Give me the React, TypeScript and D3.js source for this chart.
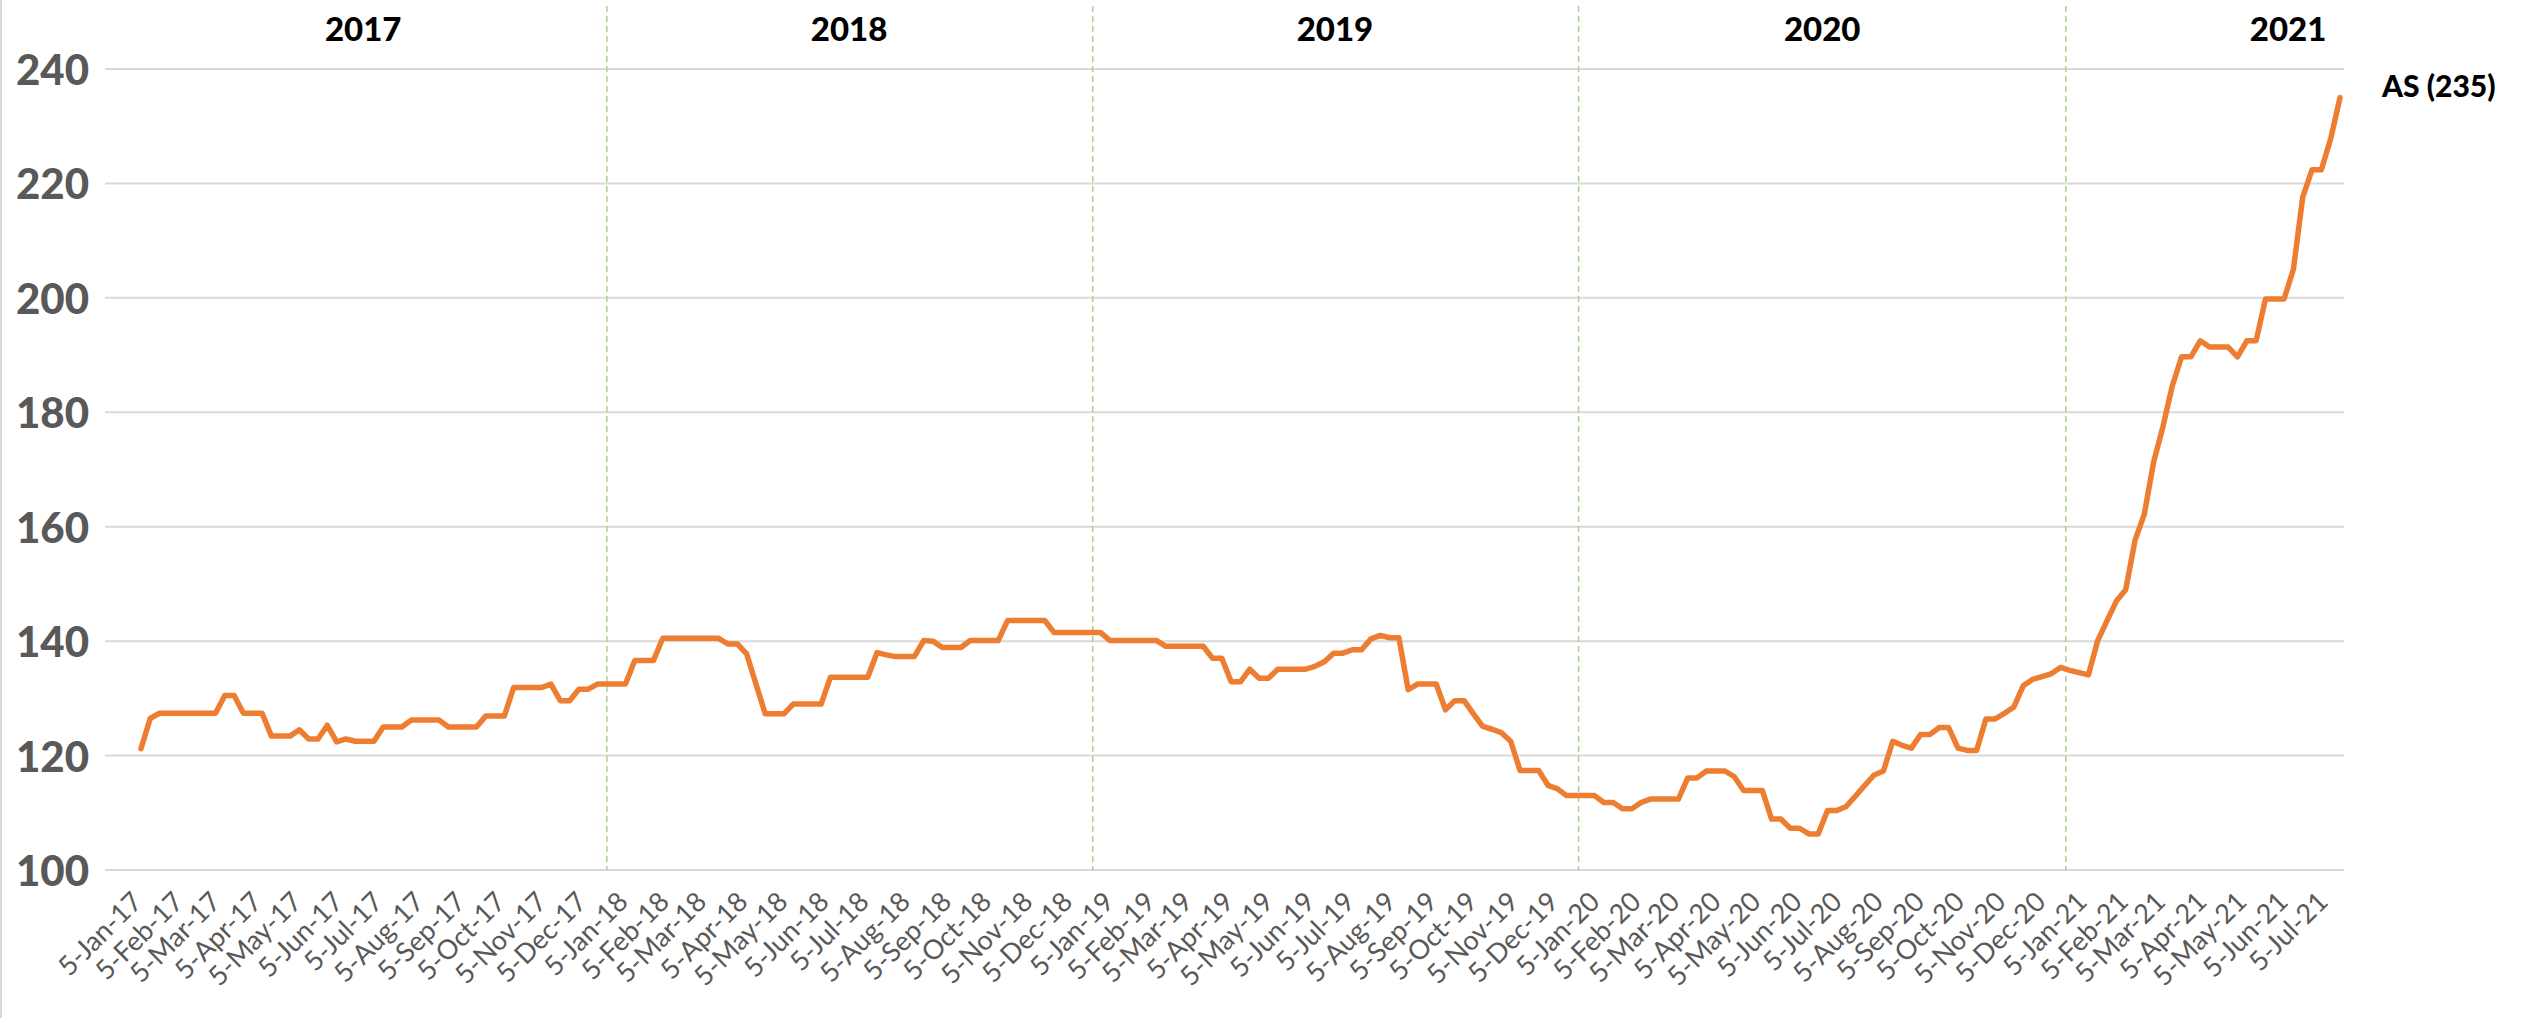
import React, { useEffect, useRef } from "react";
import * as d3 from "d3";

// weekly AS index, first reading mid-Jan 2017
const firstWeek = new Date(2017, 0, 16);
const asValues = [
  121.2, 126.5, 127.4, 127.4, 127.4, 127.4, 127.4, 127.4, 127.4, 130.5,
  130.5, 127.4, 127.4, 127.4, 123.4, 123.4, 123.4, 124.5, 122.9, 122.9,
  125.3, 122.4, 122.9, 122.5, 122.5, 122.5, 125.0, 125.0, 125.0, 126.2,
  126.2, 126.2, 126.2, 125.0, 125.0, 125.0, 125.0, 126.9, 126.9, 126.9,
  131.9, 131.9, 131.9, 131.9, 132.5, 129.6, 129.6, 131.6, 131.6, 132.5,
  132.5, 132.5, 132.5, 136.6, 136.6, 136.6, 140.5, 140.5, 140.5, 140.5,
  140.5, 140.5, 140.5, 139.5, 139.5, 137.8, 132.5, 127.3, 127.3, 127.3,
  129.0, 129.0, 129.0, 129.0, 133.7, 133.7, 133.7, 133.7, 133.7, 138.0,
  137.6, 137.3, 137.3, 137.3, 140.1, 140.0, 138.9, 138.9, 138.9, 140.1,
  140.1, 140.1, 140.1, 143.6, 143.6, 143.6, 143.6, 143.6, 141.5, 141.5,
  141.5, 141.5, 141.5, 141.5, 140.1, 140.1, 140.1, 140.1, 140.1, 140.1,
  139.1, 139.1, 139.1, 139.1, 139.1, 137.0, 137.0, 132.9, 132.9, 135.1,
  133.5, 133.5, 135.1, 135.1, 135.1, 135.1, 135.6, 136.4, 137.9, 137.9,
  138.5, 138.5, 140.4, 141.0, 140.6, 140.6, 131.5, 132.5, 132.5, 132.5,
  128.0, 129.6, 129.6, 127.3, 125.1, 124.6, 124.0, 122.5, 117.4, 117.4,
  117.4, 114.8, 114.2, 113.0, 113.0, 113.0, 113.0, 111.8, 111.8, 110.7,
  110.7, 111.8, 112.4, 112.4, 112.4, 112.4, 116.1, 116.1, 117.3, 117.3,
  117.3, 116.3, 113.9, 113.9, 113.9, 108.9, 108.9, 107.3, 107.3, 106.3,
  106.3, 110.4, 110.4, 111.1, 112.9, 114.8, 116.6, 117.3, 122.5, 121.8,
  121.3, 123.7, 123.7, 124.9, 124.9, 121.3, 120.9, 120.9, 126.4, 126.4,
  127.4, 128.5, 132.2, 133.3, 133.8, 134.3, 135.4, 134.9, 134.5, 134.1,
  140.1, 143.6, 147.0, 149.0, 157.6, 162.2, 171.3, 177.5, 184.6, 189.7,
  189.7, 192.5, 191.4, 191.4, 191.4, 189.7, 192.5, 192.5, 199.8, 199.8,
  199.8, 205.0, 217.6, 222.4, 222.4, 227.8, 235.0,
];

const yTicks = [100, 120, 140, 160, 180, 200, 220, 240];
const yearLabels = ["2017", "2018", "2019", "2020", "2021"];
const yearLabelDates = [
  new Date(2017, 6, 2),
  new Date(2018, 6, 2),
  new Date(2019, 6, 2),
  new Date(2020, 6, 2),
  new Date(2021, 5, 17),
];
const yearDividers = [
  new Date(2018, 0, 1),
  new Date(2019, 0, 1),
  new Date(2020, 0, 1),
  new Date(2021, 0, 1),
];
const seriesLabel = "AS (235)";

export default function App() {
  const svgRef = useRef<SVGSVGElement>(null);

  useEffect(() => {
    const width = 2526;
    const height = 1018;
    const plot = { left: 105, right: 2344, top: 69, bottom: 870 };

    const svg = d3.select(svgRef.current);
    svg.selectAll("*").remove();
    svg.attr("width", width).attr("height", height);

    const data = asValues.map((v, i) => ({
      date: d3.timeDay.offset(firstWeek, i * 7),
      value: v,
    }));

    const x = d3
      .scaleTime()
      .domain([new Date(2016, 11, 20), new Date(2021, 6, 29)])
      .range([plot.left, plot.right]);

    const y = d3.scaleLinear().domain([100, 240]).range([plot.bottom, plot.top]);

    // frame line at the very left
    svg.append("line")
      .attr("x1", 1).attr("x2", 1)
      .attr("y1", 0).attr("y2", height)
      .attr("stroke", "#d9d9d9")
      .attr("stroke-width", 2);

    // horizontal gridlines
    svg.append("g")
      .selectAll("line")
      .data(yTicks)
      .join("line")
      .attr("x1", plot.left)
      .attr("x2", plot.right)
      .attr("y1", (d) => y(d))
      .attr("y2", (d) => y(d))
      .attr("stroke", "#d9d9d9")
      .attr("stroke-width", 2);

    // y tick labels
    svg.append("g")
      .selectAll("text")
      .data(yTicks)
      .join("text")
      .attr("x", 89)
      .attr("y", (d) => y(d))
      .attr("text-anchor", "end")
      .attr("dominant-baseline", "central")
      .attr("font-family", "Lato, 'Open Sans', sans-serif")
      .attr("font-weight", 900)
      .attr("font-size", 42)
      .attr("fill", "#595959")
      .text((d) => d);

    // year dividers
    svg.append("g")
      .selectAll("line")
      .data(yearDividers)
      .join("line")
      .attr("x1", (d) => x(d))
      .attr("x2", (d) => x(d))
      .attr("y1", 6)
      .attr("y2", plot.bottom)
      .attr("stroke", "#a9d18e")
      .attr("stroke-width", 1.5)
      .attr("stroke-dasharray", "6,4");

    // year labels
    svg.append("g")
      .selectAll("text")
      .data(yearLabels)
      .join("text")
      .attr("x", (_, i) => x(yearLabelDates[i]))
      .attr("y", 28)
      .attr("text-anchor", "middle")
      .attr("dominant-baseline", "central")
      .attr("font-family", "Lato, 'Open Sans', sans-serif")
      .attr("font-weight", 900)
      .attr("font-size", 33)
      .attr("fill", "#000")
      .text((d) => d);

    // monthly x labels on the 5th
    const months = d3.timeMonth
      .range(new Date(2017, 0, 1), new Date(2021, 7, 1))
      .map((d) => d3.timeDay.offset(d, 4));
    const fmt = d3.timeFormat("%-d-%b-%y");

    svg.append("g")
      .selectAll("text")
      .data(months)
      .join("text")
      .attr("transform", (d) => `translate(${x(d) + 10},${plot.bottom + 26}) rotate(-45)`)
      .attr("text-anchor", "end")
      .attr("dominant-baseline", "central")
      .attr("font-family", "Lato, 'Open Sans', sans-serif")
      .attr("font-size", 27)
      .attr("fill", "#595959")
      .text((d) => fmt(d));

    // series line
    const line = d3
      .line<{ date: Date; value: number }>()
      .x((d) => x(d.date))
      .y((d) => y(d.value));

    svg.append("path")
      .datum(data)
      .attr("d", line)
      .attr("fill", "none")
      .attr("stroke", "#ed7d31")
      .attr("stroke-width", 5.5)
      .attr("stroke-linejoin", "round")
      .attr("stroke-linecap", "round");

    // end label
    const last = data[data.length - 1];
    svg.append("text")
      .attr("x", x(last.date) + 42)
      .attr("y", y(last.value) - 13)
      .attr("dominant-baseline", "central")
      .attr("font-family", "Lato, 'Open Sans', sans-serif")
      .attr("font-weight", 900)
      .attr("font-size", 30)
      .attr("fill", "#000")
      .text(seriesLabel);
  }, []);

  return (
    <svg
      ref={svgRef}
      style={{ position: "absolute", left: 0, top: 0, background: "#fff" }}
    />
  );
}
